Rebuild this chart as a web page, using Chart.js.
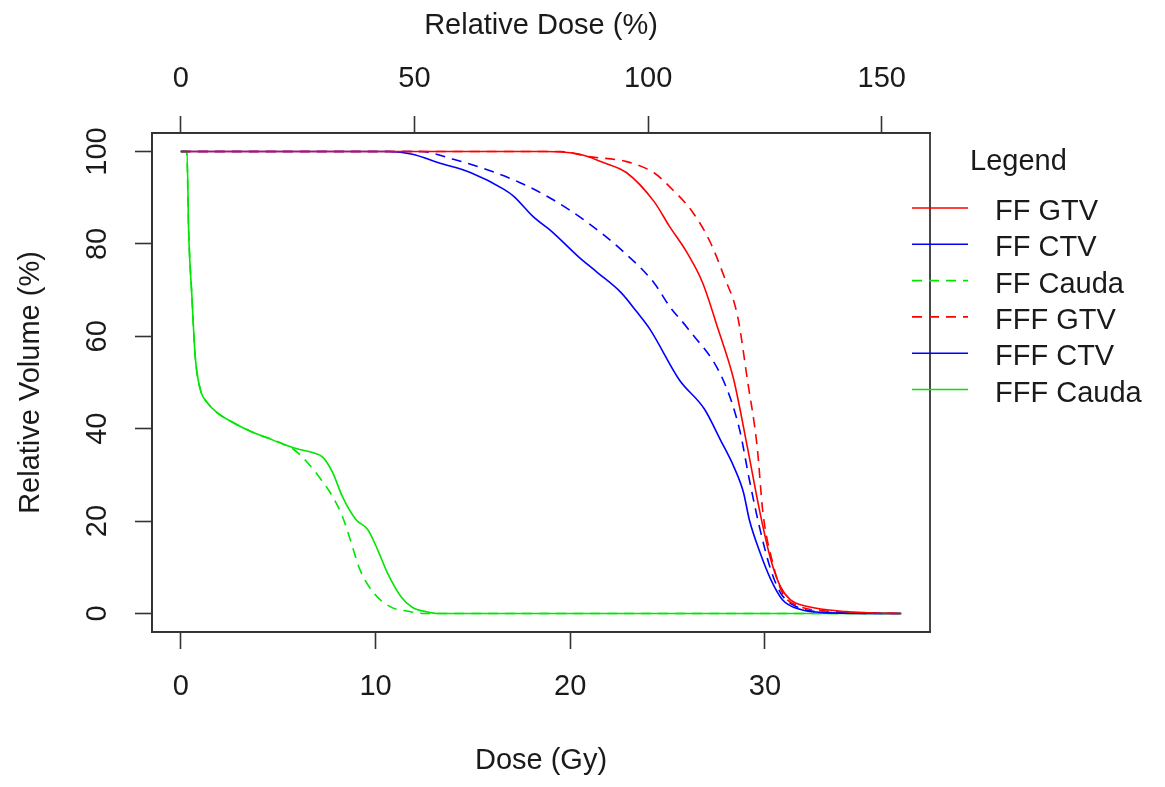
<!DOCTYPE html>
<html>
<head>
<meta charset="utf-8">
<script src="https://cdn.jsdelivr.net/npm/chart.js@4.4.1/dist/chart.umd.min.js"></script>
<style>
  body { margin: 0; background: #fff; }
  canvas { display: block; }
</style>
</head>
<body>
<canvas id="dvhChart" width="1165" height="787"></canvas>
<script>
// DVH curves, dose in Gy, volume in %
const ffGtvDose = [0, 18.7, 20.5, 21.7, 22.9, 24.3, 25.1, 26.0, 26.8, 27.6, 28.4, 29.1, 29.75, 30.3, 30.8, 31.3, 32.2, 34.2, 35.5, 37];
const ffGtvVol  = [100, 100, 99.4, 97.6, 95.4, 89.2, 83.8, 78.1, 71.6, 61.5, 50.6, 36, 21.8, 11.7, 5.8, 3.0, 1.5, 0.4, 0.1, 0];

const ffCtvDose = [0, 10.7, 11.9, 13.2, 14.9, 16.6, 17.1, 18.1, 19.1, 20.4, 21.4, 22.6, 23.4, 24.1, 25.6, 26.9, 27.7, 28.4, 28.9, 29.2, 29.75, 30.3, 30.9, 31.8, 33.0, 37];
const ffCtvVol  = [100, 100, 99.4, 97.6, 95.4, 91.8, 90.3, 85.9, 82.5, 77.3, 73.8, 69.5, 65.4, 61.5, 50.6, 44.2, 37.7, 31.8, 26.2, 20.3, 13.2, 7.4, 3.0, 0.9, 0.2, 0];

const ffCaudaDose = [0, 0.3, 0.4, 0.57, 0.74, 1.0, 1.35, 1.86, 2.7, 3.6, 4.4, 5.3, 5.8, 6.5, 7.2, 7.8, 8.3, 8.7, 9.2, 9.9, 10.75, 11.8, 12.5, 37];
const ffCaudaVol  = [100, 100, 83, 68.6, 55.6, 48.5, 45.7, 43.5, 41.3, 39.4, 38.1, 36.6, 35.5, 32.7, 29, 25.3, 21, 16, 9.5, 4.5, 1.5, 0.4, 0, 0];

const fffGtvDose = [0, 19.5, 20.9, 22.9, 24.3, 25.1, 26.3, 27.2, 27.9, 28.6, 29.1, 29.6, 29.9, 30.4, 30.9, 31.8, 33.0, 34.5, 37];
const fffGtvVol  = [100, 100, 98.9, 97.8, 95.4, 92.4, 86.8, 80.3, 73, 64.3, 50.6, 36.2, 21.8, 11, 4.5, 1.5, 0.6, 0.2, 0];

const fffCtvDose = [0, 12.3, 14.0, 15.7, 17.4, 19.1, 20.9, 22.6, 24.3, 25.1, 26.0, 27.85, 28.7, 29.2, 29.75, 30.3, 30.8, 31.6, 33.5, 37];
const fffCtvVol  = [100, 100, 98.3, 96.1, 93.3, 89.6, 84.6, 78.8, 71.6, 66.5, 61.9, 50.6, 39.8, 29, 18.2, 9.5, 4.5, 1.5, 0.2, 0];

const fffCaudaDose = [0, 0.32, 0.4, 0.57, 0.74, 1.0, 1.35, 1.86, 2.7, 3.6, 4.4, 5.3, 6.1, 6.8, 7.3, 7.8, 8.3, 9.0, 9.6, 10.1, 10.6, 11.3, 11.9, 12.6, 13.3, 37];
const fffCaudaVol  = [100, 100, 83.1, 68.6, 55.6, 48.5, 45.7, 43.5, 41.3, 39.4, 38.1, 36.6, 35.5, 34.8, 33.8, 30.5, 25.3, 20.3, 18.2, 13.9, 8.9, 3.7, 1.3, 0.4, 0, 0];

const seriesLabels = ['FF GTV', 'FF CTV', 'FF Cauda', 'FFF GTV', 'FFF CTV', 'FFF Cauda'];
const doseTicks = [0, 10, 20, 30];
const relDoseTicks = [0, 50, 100, 150];
const volumeTicks = [0, 20, 40, 60, 80, 100];
const prescribedDose = 24; // Gy = 100 %

// R-style axis limits: data range plus 4% each side
const doseRange = [0, 37];
const volRange = [0, 100];
const xPad = (doseRange[1] - doseRange[0]) * 0.04;
const yPad = (volRange[1] - volRange[0]) * 0.04;
const xMin = doseRange[0] - xPad, xMax = doseRange[1] + xPad;

const pts = (xs, ys) => xs.map((x, i) => ({ x: x, y: ys[i] }));

const RED = '#ff0000', BLUE = '#0000ff', GREEN = '#00e600';
const DASH = [10, 7];
// legend keys as drawn in the original (FFF CTV shows solid there)
const legendDash = [[], [], DASH, DASH, [], []];

const font = { family: '"Liberation Sans", Arial, sans-serif', size: 29, lineHeight: 1 };
const ink = '#1a1a1a';

function line(label, xs, ys, color, dash) {
  return {
    label: label,
    data: pts(xs, ys),
    borderColor: color,
    borderWidth: 1.6,
    borderDash: dash,
    pointRadius: 0,
    fill: false,
    cubicInterpolationMode: 'monotone'
  };
}

const boxPlugin = {
  id: 'rBox',
  afterDraw(chart) {
    const a = chart.chartArea, ctx = chart.ctx;
    ctx.save();
    ctx.strokeStyle = '#333';
    ctx.lineWidth = 1.8;
    ctx.strokeRect(a.left, a.top, a.right - a.left, a.bottom - a.top);

    // legend, outside the plot region like R's legend(xpd=TRUE)
    ctx.font = '29px "Liberation Sans", Arial, sans-serif';
    ctx.fillStyle = ink;
    ctx.textBaseline = 'alphabetic';
    ctx.textAlign = 'left';
    ctx.fillText('Legend', 970, 170);
    chart.data.datasets.forEach((ds, i) => {
      const y = 220 + i * 36.3;
      ctx.strokeStyle = ds.borderColor;
      ctx.lineWidth = ds.borderWidth;
      ctx.setLineDash(legendDash[i]);
      ctx.beginPath();
      ctx.moveTo(912, y - 12);
      ctx.lineTo(968, y - 12);
      ctx.stroke();
      ctx.setLineDash([]);
      ctx.fillText(ds.label, 995, y);
    });
    ctx.restore();
  }
};

const axisGrid = { drawOnChartArea: false, drawTicks: true, tickLength: 17, tickColor: '#333', tickWidth: 1.6 };
const axisBorder = { display: true, color: '#333', width: 1.8 };

new Chart(document.getElementById('dvhChart').getContext('2d'), {
  type: 'line',
  data: {
    datasets: [
      line(seriesLabels[0], ffGtvDose, ffGtvVol, RED, []),
      line(seriesLabels[1], ffCtvDose, ffCtvVol, BLUE, []),
      line(seriesLabels[2], ffCaudaDose, ffCaudaVol, GREEN, DASH),
      line(seriesLabels[3], fffGtvDose, fffGtvVol, RED, DASH),
      line(seriesLabels[4], fffCtvDose, fffCtvVol, BLUE, DASH),
      line(seriesLabels[5], fffCaudaDose, fffCaudaVol, GREEN, [])
    ]
  },
  options: {
    responsive: false,
    animation: false,
    layout: { padding: { left: 0, top: 0, bottom: 0, right: 235 } },
    plugins: { legend: { display: false }, tooltip: { enabled: false } },
    scales: {
      x: {
        type: 'linear',
        position: 'bottom',
        min: xMin,
        max: xMax,
        grid: axisGrid,
        border: axisBorder,
        afterBuildTicks: s => { s.ticks = doseTicks.map(v => ({ value: v })); },
        afterFit: s => { s.height = 155; },
        ticks: { color: ink, font: font, padding: 23, maxRotation: 0, autoSkip: false },
        title: { display: true, text: 'Dose (Gy)', color: ink, font: font, padding: { bottom: 12 } }
      },
      x2: {
        type: 'linear',
        position: 'top',
        min: xMin / prescribedDose * 100,
        max: xMax / prescribedDose * 100,
        grid: axisGrid,
        border: axisBorder,
        afterBuildTicks: s => { s.ticks = relDoseTicks.map(v => ({ value: v })); },
        afterFit: s => { s.height = 133; },
        ticks: { color: ink, font: font, padding: 23, maxRotation: 0, autoSkip: false },
        title: { display: true, text: 'Relative Dose (%)', color: ink, font: font, padding: { top: 11 } }
      },
      y: {
        type: 'linear',
        position: 'left',
        min: volRange[0] - yPad,
        max: volRange[1] + yPad,
        grid: axisGrid,
        border: axisBorder,
        afterBuildTicks: s => { s.ticks = volumeTicks.map(v => ({ value: v })); },
        afterFit: s => { s.width = 152; },
        ticks: { color: ink, font: font, padding: 13, minRotation: 90, maxRotation: 90, crossAlign: 'center', autoSkip: false },
        title: { display: true, text: 'Relative Volume (%)', color: ink, font: font, padding: { top: 16 } }
      }
    }
  },
  plugins: [boxPlugin]
});
</script>
</body>
</html>
